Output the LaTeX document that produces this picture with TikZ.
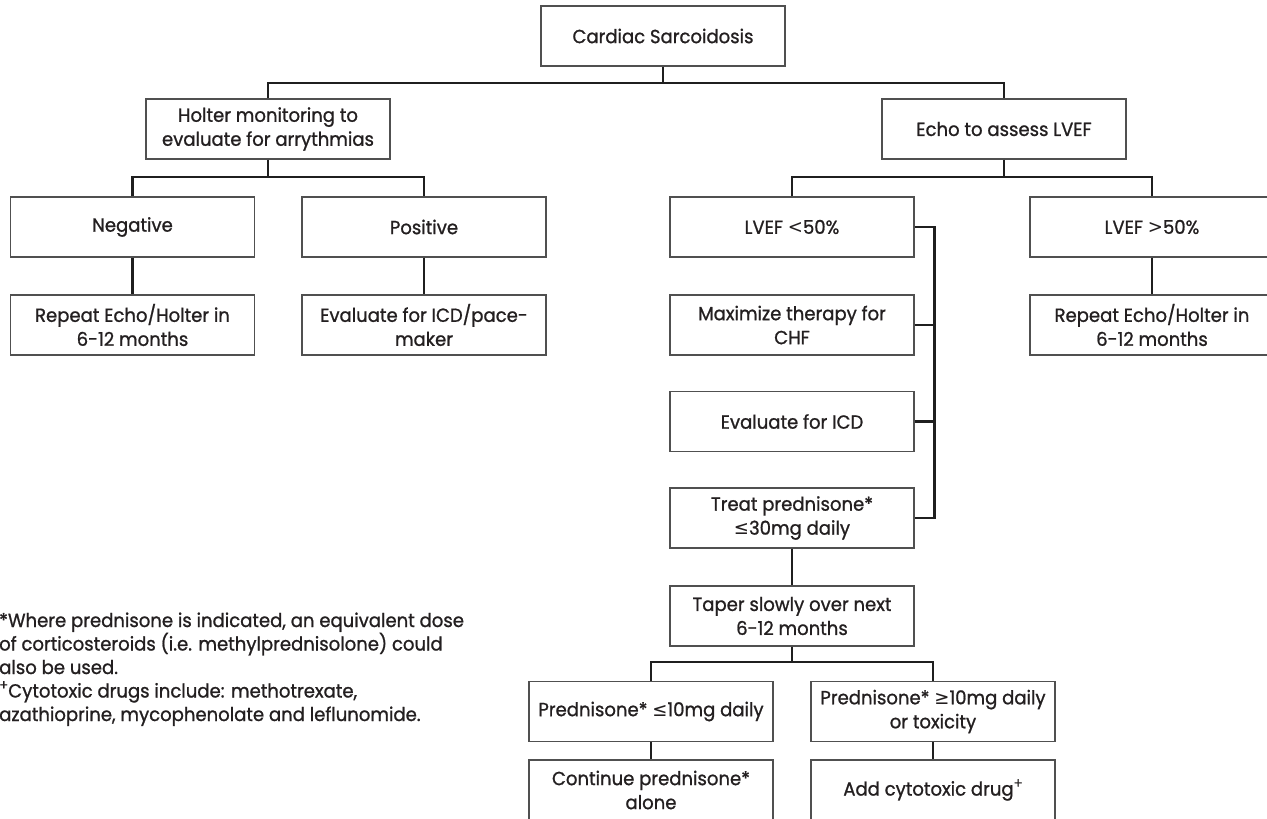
\documentclass[tikz,border=0pt]{standalone}
\usepackage{fontspec}
\setmainfont{Poppins}[FakeStretch=0.95,FakeBold=1]
\newfontfamily\symf{DejaVu Sans}[FakeStretch=0.95]
\definecolor{txt}{HTML}{231F20}
\definecolor{bordc}{HTML}{505050}
\newcommand\myle{{\symf ≤}}
\newcommand\myge{{\symf ≥}}
\newcommand\mylt{{\symf <}}
\newcommand\mygt{{\symf >}}
\newcommand\myplus{\raisebox{0.4em}{\fontsize{14}{14}\selectfont +}}
\begin{document}
\begin{tikzpicture}[x=1pt,y=-1pt,
  box/.style={draw=bordc, line width=1.3pt, minimum width=244pt, minimum height=60pt,
    inner sep=1pt, align=center, text=txt, font=\fontsize{19}{24}\selectfont},
  conn/.style={line width=2.8pt, draw=black!88},
  note/.style={align=left, text=txt, inner sep=0pt, font=\fontsize{19}{23.5}\selectfont}]
\clip (0,0) rectangle (1267,819);
\fill[white] (0,0) rectangle (1267,819);
% boxes
\node[box] (top) at (663,36) {Cardiac Sarcoidosis};
\node[box] (holter) at (268,129) {Holter monitoring to\\evaluate for arrythmias};
\node[box] (echo) at (1004,129) {Echo to assess LVEF};
\node[box] (neg) at (132.5,227) {Negative};
\node[box] (pos) at (424,227) {Positive};
\node[box] (lvl) at (792,227) {LVEF \mylt50\%};
\node[box] (lvh) at (1152,227) {LVEF \mygt50\%};
\node[box] (rep1) at (132.5,325) {Repeat Echo/Holter in\\6-12 months};
\node[box] (evpm) at (424,325) {Evaluate for ICD/pace-\\maker};
\node[box] (maxi) at (792,325) {Maximize therapy for\\CHF};
\node[box] (rep2) at (1152,325) {Repeat Echo/Holter in\\6-12 months};
\node[box] (evicd) at (792,421.5) {Evaluate for ICD};
\node[box] (treat) at (792,518) {Treat prednisone*\\\myle30mg daily};
\node[box] (taper) at (792,616) {Taper slowly over next\\6-12 months};
\node[box] (plo) at (651,711.5) {Prednisone* \myle10mg daily};
\node[box] (phi) at (933,711.5) {Prednisone* \myge10mg daily\\or toxicity};
\node[box] (cont) at (651,790) {Continue prednisone*\\alone};
\node[box] (cyt) at (933,790) {Add cytotoxic drug\myplus};
% bus coordinates
\coordinate (b1) at (663,83);
\coordinate (b2) at (268,177);
\coordinate (b3) at (1004,177);
\coordinate (b4) at (792,662);
% connectors
\draw[conn] (top.south) -- (b1);
\draw[conn] (holter.north) |- (b1) -| (echo.north);
\draw[conn] (holter.south) -- (b2);
\draw[conn] (neg.north) |- (b2) -| (pos.north);
\draw[conn] (echo.south) -- (b3);
\draw[conn] (lvl.north) |- (b3) -| (lvh.north);
\draw[conn] (neg.south) -- (rep1.north);
\draw[conn] (pos.south) -- (evpm.north);
\draw[conn] (lvh.south) -- (rep2.north);
\draw[conn] (lvl.east) -- ++(20,0) |- (treat.east);
\draw[conn] (maxi.east) -- ++(20,0);
\draw[conn] (evicd.east) -- ++(20,0);
\draw[conn] (treat.south) -- (taper.north);
\draw[conn] (taper.south) -- (b4);
\draw[conn] (plo.north) |- (b4) -| (phi.north);
\draw[conn] (plo.south) -- (cont.north);
\draw[conn] (phi.south) -- (cyt.north);
% footnote
\node[note, anchor=base west] (fn) at (-1,721) {*Where prednisone is indicated, an equivalent dose\\of corticosteroids (i.e. methylprednisolone) could\\also be used.\\\myplus Cytotoxic drugs include: methotrexate,\\azathioprine, mycophenolate and leflunomide.};
\end{tikzpicture}
\end{document}
